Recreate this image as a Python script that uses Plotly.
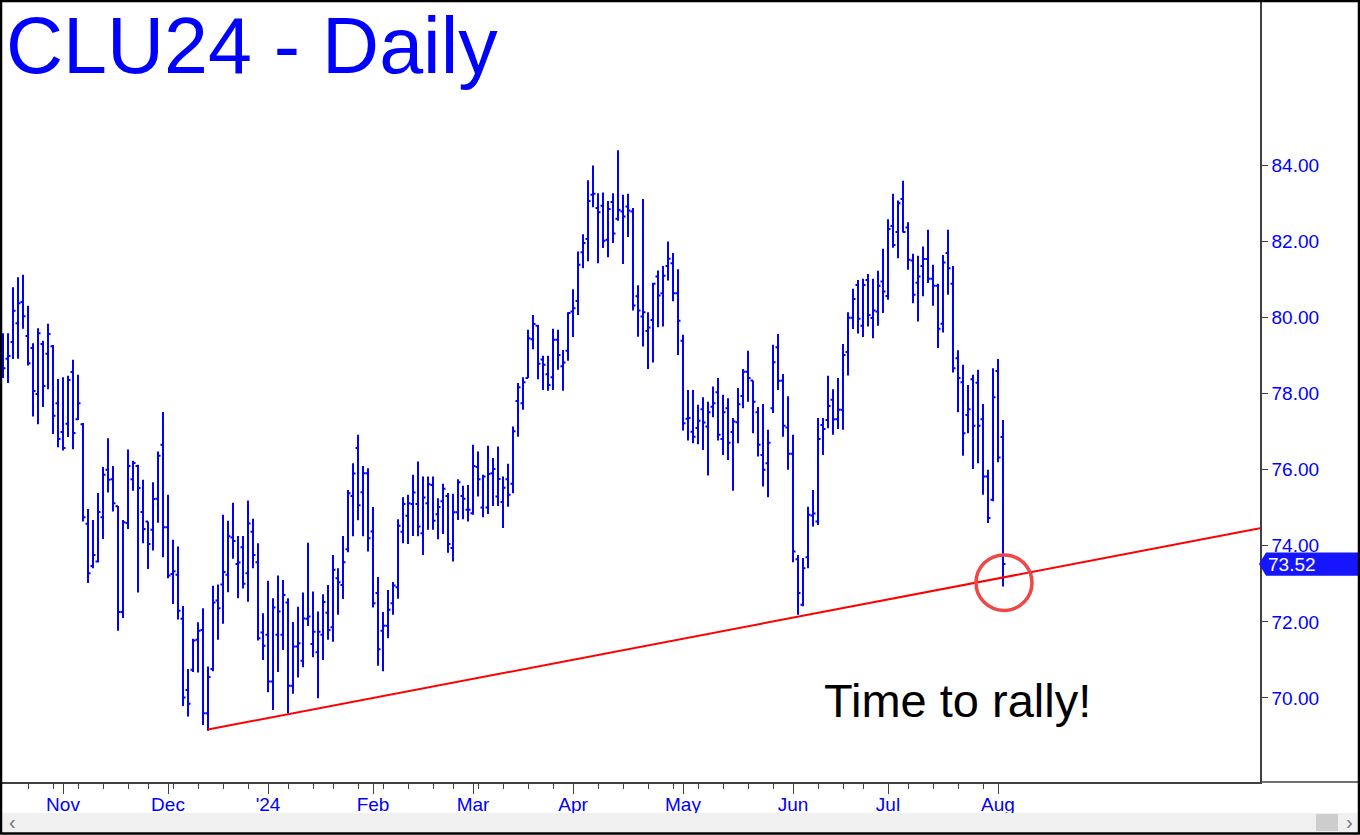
import pandas as pd
import plotly.graph_objects as go

# ---------------- data ----------------
FIRST_DAY = "2023-10-16"
LAST_DAY = "2024-08-02"
HOLIDAYS = ["2023-11-23", "2023-12-25", "2024-01-01", "2024-01-15", "2024-02-19",
            "2024-03-29", "2024-05-27", "2024-06-19", "2024-07-04"]

OPEN = [79.0, 78.92, 79.36, 79.85, 80.41, 79.52, 79.20, 77.99, 79.31, 79.05,
        79.25, 77.75, 76.99, 77.21, 78.57, 77.33, 77.2, 74.58, 73.47, 73.59,
        74.75, 76.00, 75.75, 75.04, 72.26, 74.6, 75.75, 76.1, 74.89, 74.64,
        74.42, 75.24, 76.66, 74.49, 73.26, 73.24, 72.08, 70.21, 70.74, 71.53,
        71.79, 69.60, 70.76, 72.56, 72.98, 73.24, 74.22, 73.52, 73.96, 73.28,
        74.37, 73.57, 71.72, 71.66, 70.43, 71.66, 71.66, 72.51, 70.32, 71.35,
        70.98, 72.08, 71.42, 71.2, 71.66, 72.24, 71.86, 73.15, 72.97, 73.91,
        75.31, 76.57, 75.41, 75.91, 74.38, 72.76, 71.77, 71.90, 72.49, 72.91,
        74.37, 74.79, 75.10, 75.10, 74.33, 75.12, 75.6, 74.83, 75.17, 75.31,
        73.94, 74.88, 75.31, 74.95, 74.86, 76.07, 75.01, 75.01, 75.91, 75.3,
        75.15, 75.75, 75.63, 77.81, 77.75, 78.41, 79.43, 79.79, 78.9, 78.51,
        78.43, 79.42, 78.72, 79.13, 80.16, 80.44, 81.72, 82.07, 83.23, 82.88,
        82.94, 82.05, 83.04, 82.6, 82.79, 82.92, 82.79, 80.56, 80.03, 79.65,
        79.94, 81.08, 80.64, 81.36, 81.43, 80.64, 79.39, 77.34, 77.0, 77.1,
        77.59, 77.14, 77.66, 78.04, 76.81, 77.62, 76.99, 77.25, 77.94, 78.58,
        78.35, 77.51, 76.39, 76.17, 77.62, 79.22, 78.34, 77.11, 76.42, 73.65,
        72.45, 73.70, 74.8, 74.64, 77.18, 77.31, 77.84, 77.33, 77.58, 79.1,
        80.0, 80.86, 79.79, 80.99, 79.99, 80.16, 80.95, 80.57, 82.41, 82.25,
        83.12, 82.37, 81.5, 80.92, 81.36, 81.54, 81.02, 80.84, 79.84, 81.70,
        80.89, 78.93, 78.3, 77.44, 78.38, 78.29, 77.33, 75.82, 75.21, 78.60,
        76.86]
HIGH = [79.59, 79.59, 80.80, 81.06, 81.13, 80.31, 79.33, 79.72, 79.39, 79.84,
        79.28, 78.39, 78.43, 78.47, 78.89, 78.50, 77.23, 74.97, 74.68, 75.39,
        76.07, 76.83, 76.10, 75.05, 74.68, 76.53, 76.24, 76.13, 75.74, 74.64,
        75.67, 76.48, 77.52, 75.34, 74.16, 73.98, 72.42, 70.76, 71.56, 71.99,
        72.36, 70.83, 72.95, 72.98, 74.82, 74.66, 75.13, 74.26, 74.26, 75.19,
        74.71, 74.07, 72.23, 73.08, 72.62, 73.22, 73.10, 72.62, 72.0, 72.40,
        72.77, 74.08, 72.80, 72.27, 72.73, 72.97, 73.76, 73.41, 74.26, 75.47,
        76.17, 76.92, 76.10, 76.04, 75.02, 73.18, 72.26, 72.84, 73.05, 74.70,
        75.28, 75.34, 75.87, 76.22, 75.82, 75.82, 75.82, 75.25, 75.63, 75.39,
        75.37, 75.75, 75.58, 75.60, 76.66, 76.48, 75.87, 76.63, 76.31, 76.61,
        75.82, 76.16, 77.14, 78.28, 78.43, 79.68, 80.07, 79.81, 79.0, 79.0,
        79.71, 79.68, 79.15, 80.14, 80.75, 81.74, 82.19, 83.61, 84.0, 83.27,
        83.29, 83.07, 83.27, 84.40, 83.23, 83.26, 82.88, 80.85, 83.12, 80.14,
        80.92, 81.24, 81.36, 82.0, 81.70, 81.27, 79.55, 78.10, 78.10, 77.71,
        77.91, 77.79, 78.19, 78.41, 77.97, 77.88, 77.36, 78.15, 78.65, 79.13,
        78.35, 77.65, 77.73, 77.05, 79.29, 79.57, 78.52, 77.93, 76.92, 73.76,
        73.68, 75.03, 75.47, 77.36, 77.36, 78.47, 78.12, 78.41, 79.31, 80.14,
        80.76, 80.99, 81.02, 81.15, 81.02, 81.23, 81.81, 82.59, 83.26, 83.08,
        83.60, 82.51, 81.68, 81.63, 81.87, 82.31, 81.39, 80.89, 81.65, 82.31,
        81.36, 79.14, 78.76, 78.23, 78.50, 78.63, 77.73, 76.0, 78.67, 78.91,
        77.31]
LOW = [78.41, 78.28, 78.91, 78.92, 79.71, 78.74, 77.40, 77.20, 77.65, 78.12,
       76.94, 76.59, 76.51, 76.86, 76.54, 77.31, 74.64, 73.02, 73.41, 73.56,
       74.18, 75.40, 74.90, 71.77, 72.10, 74.44, 75.45, 72.77, 74.07, 73.39,
       73.88, 74.61, 73.70, 73.15, 72.47, 72.06, 69.79, 69.51, 70.68, 70.67,
       69.29, 69.14, 70.70, 71.53, 71.95, 72.78, 73.66, 72.62, 72.88, 72.53,
       73.41, 71.51, 71.0, 70.15, 69.68, 70.68, 71.26, 69.60, 70.11, 70.54,
       70.81, 71.89, 71.07, 69.99, 71.0, 71.53, 71.48, 72.19, 72.6, 73.83,
       74.25, 74.67, 74.25, 73.85, 72.38, 70.85, 70.70, 71.57, 72.19, 72.61,
       74.07, 74.05, 74.26, 74.25, 73.76, 74.42, 74.42, 74.17, 74.31, 73.82,
       73.59, 74.68, 74.70, 74.64, 74.82, 75.30, 74.75, 74.84, 75.05, 75.05,
       74.47, 75.03, 75.38, 76.87, 77.58, 78.41, 79.17, 78.38, 78.10, 78.08,
       78.10, 78.63, 78.08, 78.87, 79.49, 80.07, 81.30, 81.48, 82.90, 81.43,
       81.83, 81.59, 81.96, 82.55, 81.41, 82.12, 80.19, 79.50, 79.24, 78.65,
       78.82, 79.75, 79.77, 80.98, 80.43, 79.02, 77.03, 76.77, 76.70, 76.67,
       76.52, 75.85, 77.38, 76.77, 76.39, 76.26, 75.45, 76.70, 77.62, 77.79,
       76.96, 76.35, 75.56, 75.28, 77.49, 78.10, 76.87, 76.0, 73.57, 72.19,
       72.41, 73.41, 74.51, 74.55, 76.39, 77.09, 76.92, 77.07, 77.05, 78.48,
       79.70, 79.58, 79.49, 79.77, 79.46, 79.79, 80.12, 80.47, 81.84, 81.56,
       82.24, 81.26, 80.38, 79.90, 80.56, 80.91, 80.31, 79.20, 79.61, 80.60,
       78.56, 77.51, 76.37, 76.96, 76.02, 76.17, 75.34, 74.60, 75.17, 76.20,
       72.93]
CLOSE = [78.67, 78.99, 80.18, 80.38, 80.04, 78.80, 78.07, 79.59, 78.20, 79.57,
         77.42, 76.81, 76.57, 78.36, 76.97, 77.75, 74.75, 73.28, 73.76, 74.89,
         75.87, 75.74, 75.12, 72.26, 74.62, 76.10, 76.18, 75.52, 74.44, 74.05,
         75.23, 76.37, 74.49, 73.22, 73.33, 72.29, 70.01, 69.85, 71.51, 71.77,
         69.60, 70.55, 72.51, 72.36, 73.31, 74.25, 74.13, 73.56, 73.00, 74.59,
         73.76, 71.57, 71.37, 70.43, 72.38, 72.27, 72.71, 70.32, 71.35, 71.44,
         72.09, 72.14, 71.74, 71.74, 72.52, 71.79, 73.37, 73.04, 73.57, 75.38,
         75.9, 75.07, 75.91, 74.2, 72.49, 71.28, 71.90, 72.32, 72.96, 74.53,
         75.1, 75.12, 75.4, 74.51, 75.27, 75.62, 74.66, 75.02, 75.5, 74.05,
         74.88, 75.67, 75.24, 74.95, 76.10, 75.75, 75.82, 75.89, 76.02, 75.76,
         75.53, 75.34, 77.01, 78.17, 78.30, 79.46, 79.83, 78.79, 78.76, 78.23,
         79.42, 79.02, 78.82, 80.12, 80.25, 81.39, 81.96, 83.07, 83.26, 82.77,
         82.02, 82.86, 82.21, 82.83, 82.66, 82.82, 80.32, 80.19, 80.14, 79.74,
         80.89, 80.58, 81.1, 81.55, 80.64, 79.92, 77.22, 77.36, 76.87, 77.29,
         77.24, 77.51, 77.75, 76.92, 77.51, 76.71, 77.27, 77.72, 78.58, 78.41,
         77.79, 76.66, 76.0, 76.71, 78.83, 78.34, 77.16, 76.42, 73.85, 72.76,
         73.41, 74.82, 74.85, 76.81, 77.07, 77.68, 77.33, 77.58, 79.02, 80.0,
         80.49, 79.97, 80.86, 80.07, 80.19, 80.84, 80.69, 82.33, 81.91, 83.01,
         82.25, 81.52, 80.6, 81.08, 81.54, 81.02, 80.84, 79.71, 81.45, 81.3,
         78.67, 78.41, 76.96, 77.59, 77.16, 77.16, 75.82, 74.73, 77.91, 76.32,
         73.52]

Y_TICKS = [70, 72, 74, 76, 78, 80, 82, 84]
TITLE = "CLU24 - Daily"
NOTE = "Time to rally!"

# trendline (drawn annotation): anchored at the Dec 13 low, extended to the right edge
TREND_START_DATE = "2023-12-13"
TREND_START_VALUE = 69.17
TREND_END_VALUE = 74.46
# red circle around the last bar's low
CIRCLE_Y_CENTER = 73.03
CIRCLE_X_RADIUS_BARS = 5.6
CIRCLE_Y_RADIUS = 0.73

# ---------------- styling / layout ----------------
W, H = 1360, 835
PLOT_L, PLOT_R, PLOT_T, PLOT_B = 2, 1260, 2, 782
X_RANGE = [-0.2, 251.4]
Y_RANGE = [67.79, 88.30]
BLUE = "#0000ff"
AXIS_COL = "#404040"
FONT = "Liberation Sans, Arial, sans-serif"


def pxx(xp):
    return (xp - PLOT_L) / (PLOT_R - PLOT_L)


def pyy(yp):
    return (PLOT_B - yp) / (PLOT_B - PLOT_T)


dates = pd.bdate_range(FIRST_DAY, LAST_DAY, freq="C", holidays=HOLIDAYS)
assert len(dates) == len(CLOSE) == len(OPEN) == len(HIGH) == len(LOW)
idx = list(range(len(dates)))
date_str = [d.strftime("%Y-%m-%d") for d in dates]

month_ticks, month_text, week_ticks = [], [], []
for i in range(1, len(dates)):
    if dates[i].month != dates[i - 1].month:
        month_ticks.append(i)
        month_text.append("'" + dates[i].strftime("%y") if dates[i].month == 1 else dates[i].strftime("%b"))
    if dates[i].weekday() < dates[i - 1].weekday():
        week_ticks.append(i)

fig = go.Figure()
fig.add_trace(go.Ohlc(
    x=idx, open=OPEN, high=HIGH, low=LOW, close=CLOSE,
    increasing=dict(line=dict(color=BLUE, width=2)),
    decreasing=dict(line=dict(color=BLUE, width=2)),
    tickwidth=0.5, hovertext=date_str,
    showlegend=False,
))

trend_x0 = date_str.index(TREND_START_DATE)
last_i = idx[-1]
last_close = CLOSE[-1]
half_h = 0.307

shapes = [
    # trendline
    dict(type="line", xref="x", yref="y", x0=trend_x0, y0=TREND_START_VALUE,
         x1=X_RANGE[1], y1=TREND_END_VALUE, line=dict(color="#ff0000", width=2), layer="above"),
    # circle
    dict(type="circle", xref="x", yref="y",
         x0=last_i - CIRCLE_X_RADIUS_BARS + 0.2, x1=last_i + CIRCLE_X_RADIUS_BARS + 0.2,
         y0=CIRCLE_Y_CENTER - CIRCLE_Y_RADIUS, y1=CIRCLE_Y_CENTER + CIRCLE_Y_RADIUS,
         line=dict(color="#f04646", width=3.5), layer="above"),
    # x-axis line extension under the price scale
    dict(type="line", xref="paper", yref="paper", x0=1, x1=pxx(1359), y0=0, y1=0,
         line=dict(color=AXIS_COL, width=1.5)),
    # scrollbar
    dict(type="rect", xref="paper", yref="paper", x0=pxx(2), x1=pxx(1358),
         y0=pyy(832), y1=pyy(813), fillcolor="#f0f0f0", line=dict(width=0), layer="above"),
    dict(type="rect", xref="paper", yref="paper", x0=pxx(1316), x1=pxx(1338),
         y0=pyy(831), y1=pyy(814), fillcolor="#cdcdcd", line=dict(width=0), layer="above"),
    # last price tag
    dict(type="path", xref="paper", yref="y", layer="above",
         path=(f"M {pxx(1259)},{last_close} L {pxx(1266)},{last_close + half_h} "
               f"L {pxx(1358)},{last_close + half_h} L {pxx(1358)},{last_close - half_h} "
               f"L {pxx(1266)},{last_close - half_h} Z"),
         fillcolor="#1515ff", line=dict(width=0)),
    # outer frame
    dict(type="rect", xref="paper", yref="paper", x0=pxx(1), x1=pxx(1359),
         y0=pyy(833.5), y1=pyy(1), line=dict(color="#000000", width=2.5), layer="above"),
]

annotations = [
    dict(text=TITLE, xref="paper", yref="paper", x=pxx(4), y=pyy(-1),
         xanchor="left", yanchor="top", showarrow=False,
         font=dict(family=FONT, size=79, color=BLUE)),
    dict(text=NOTE, xref="paper", yref="paper", x=pxx(957), y=pyy(700),
         xanchor="center", yanchor="middle", showarrow=False,
         font=dict(family=FONT, size=47, color="#000000")),
    dict(text=f"{last_close:.2f}", xref="paper", yref="y", x=pxx(1266), y=last_close,
         xanchor="left", yanchor="middle", showarrow=False,
         font=dict(family=FONT, size=19, color="#ffffff")),
    dict(text="‹", xref="paper", yref="paper", x=pxx(12), y=pyy(822),
         xanchor="center", yanchor="middle", showarrow=False,
         font=dict(family=FONT, size=20, color="#777777")),
    dict(text="›", xref="paper", yref="paper", x=pxx(1349), y=pyy(822),
         xanchor="center", yanchor="middle", showarrow=False,
         font=dict(family=FONT, size=20, color="#777777")),
]

fig.update_layout(
    width=W, height=H, autosize=False,
    margin=dict(l=PLOT_L, r=W - PLOT_R, t=PLOT_T, b=H - PLOT_B, pad=0),
    paper_bgcolor="#ffffff", plot_bgcolor="#ffffff",
    showlegend=False, shapes=shapes, annotations=annotations,
    font=dict(family=FONT),
    xaxis=dict(
        range=X_RANGE, rangeslider=dict(visible=False), showgrid=False, zeroline=False,
        showline=True, linecolor=AXIS_COL, linewidth=1.5,
        tickmode="array", tickvals=month_ticks, ticktext=month_text,
        ticks="outside", ticklen=10, tickcolor=AXIS_COL, tickwidth=1,
        ticklabelstandoff=-6,
        tickfont=dict(family=FONT, size=19, color=BLUE),
        minor=dict(tickmode="array", tickvals=week_ticks, ticks="outside",
                   ticklen=5, tickcolor=AXIS_COL, tickwidth=1, showgrid=False),
    ),
    yaxis=dict(
        range=Y_RANGE, side="right", showgrid=False, zeroline=False,
        showline=True, linecolor=AXIS_COL, linewidth=1.5,
        tickmode="array", tickvals=Y_TICKS, ticktext=[f"{v:.2f}" for v in Y_TICKS],
        ticks="outside", ticklen=6, tickcolor=AXIS_COL, tickwidth=1,
        tickfont=dict(family=FONT, size=19, color=BLUE),
    ),
)

fig.write_html(
    "out.html",
    config={"displayModeBar": False},
    post_script="document.body.style.margin='0';document.body.style.padding='0';",
)
